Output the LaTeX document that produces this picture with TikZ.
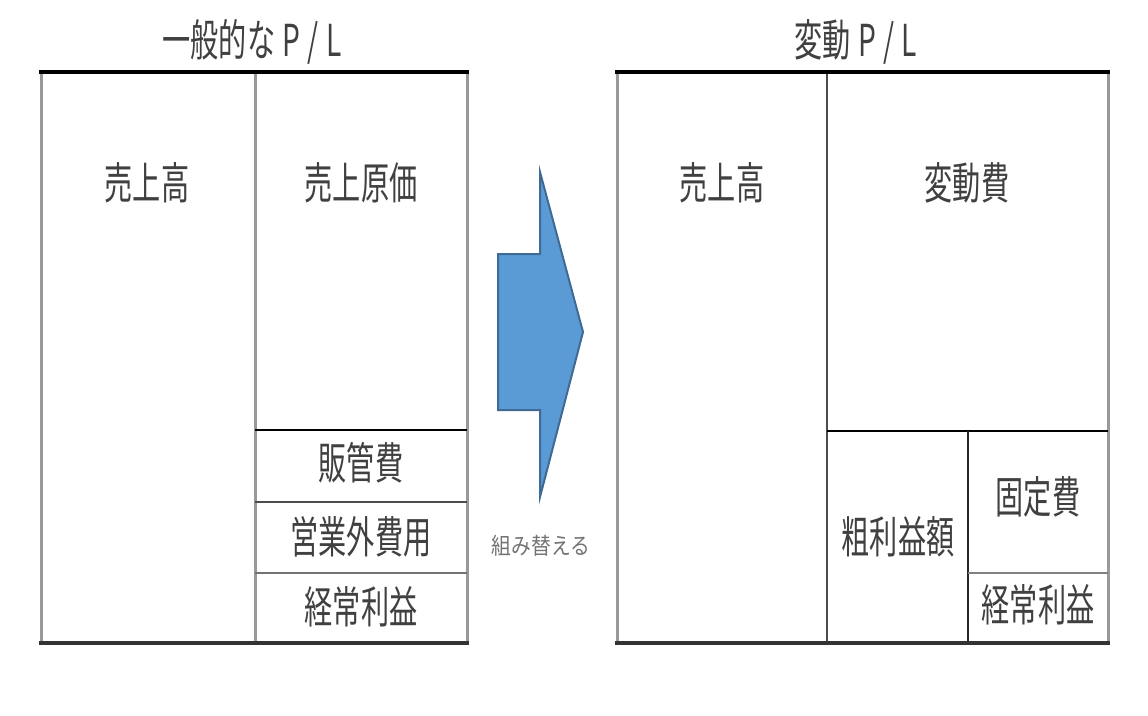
\documentclass[tikz,border=0pt]{standalone}
\usepackage{fontspec}
\newfontfamily\jpfont[FakeStretch=0.64]{Noto Sans CJK JP}
\newfontfamily\jpsmallfont[FakeStretch=0.86]{Noto Sans CJK JP}
\definecolor{txtgray}{HTML}{404040}
\definecolor{arrowblue}{HTML}{5B9BD5}
\definecolor{arrowedge}{HTML}{3E6A93}
\newcommand{\bigjp}{\fontsize{44}{48}\selectfont\jpfont}
\newcommand{\smalljp}{\fontsize{23}{26}\selectfont\jpsmallfont}
\begin{document}
\begin{tikzpicture}[x=1pt,y=-1pt,
        lbl/.style={font=\bigjp,text=txtgray,inner sep=0pt},
        note/.style={font=\smalljp,text=black!55,inner sep=0pt},
        topline/.style={line width=3.5pt,black},
        botline/.style={line width=3.5pt,black!80},
        sideline/.style={line width=3pt,black!40},
        divline/.style={line width=2.5pt,black!70},
        arrowbody/.style={fill=arrowblue,draw=arrowedge,line width=2pt,line join=miter}]

\useasboundingbox (0,0) rectangle (1148,715);

% left P/L
\node[lbl] (titleL) at (252,42) {一般的な\,P\,/\,L};
\draw[sideline] (41,72) -- (41,643);
\draw[sideline] (255,72) -- (255,643);
\draw[sideline] (467,72) -- (467,643);
\draw[line width=2.5pt,black] (255,430) -- (467,430);
\draw[divline] (255,502) -- (467,502);
\draw[line width=2.5pt,black!55] (255,573) -- (467,573);
\draw[topline] (39,72) -- (469,72);
\draw[botline] (39,643) -- (469,643);

\node[lbl] (salesL) at (147,183) {売上高};
\node[lbl] (cogs) at (361,183) {売上原価};
\node[lbl] (sga) at (361,463) {販管費};
\node[lbl] (nonop) at (361,537) {営業外費用};
\node[lbl] (profitL) at (361,607) {経常利益};

% arrow
\draw[arrowbody] (498,254) -- (540,254) -- (540,172) -- (583,332)
    -- (540,497) -- (540,410) -- (498,410) -- cycle;
\node[note] (swap) at (541,546) {組み替える};

% right P/L
\node[lbl] (titleR) at (856,42) {変動\,P\,/\,L};
\draw[sideline] (617,72) -- (617,643);
\draw[divline] (827,72) -- (827,643);
\draw[sideline] (1108,72) -- (1108,643);
\draw[line width=2.5pt,black] (827,431) -- (1108,431);
\draw[line width=2.5pt,black!85] (968,431) -- (968,643);
\draw[line width=2.5pt,black!50] (968,573) -- (1108,573);
\draw[topline] (615,72) -- (1110,72);
\draw[botline] (615,643) -- (1110,643);

\node[lbl] (salesR) at (722,183) {売上高};
\node[lbl] (varcost) at (967,183) {変動費};
\node[lbl] (margin) at (898,537) {粗利益額};
\node[lbl] (fixcost) at (1038,497) {固定費};
\node[lbl] (profitR) at (1038,605) {経常利益};
\end{tikzpicture}
\end{document}
